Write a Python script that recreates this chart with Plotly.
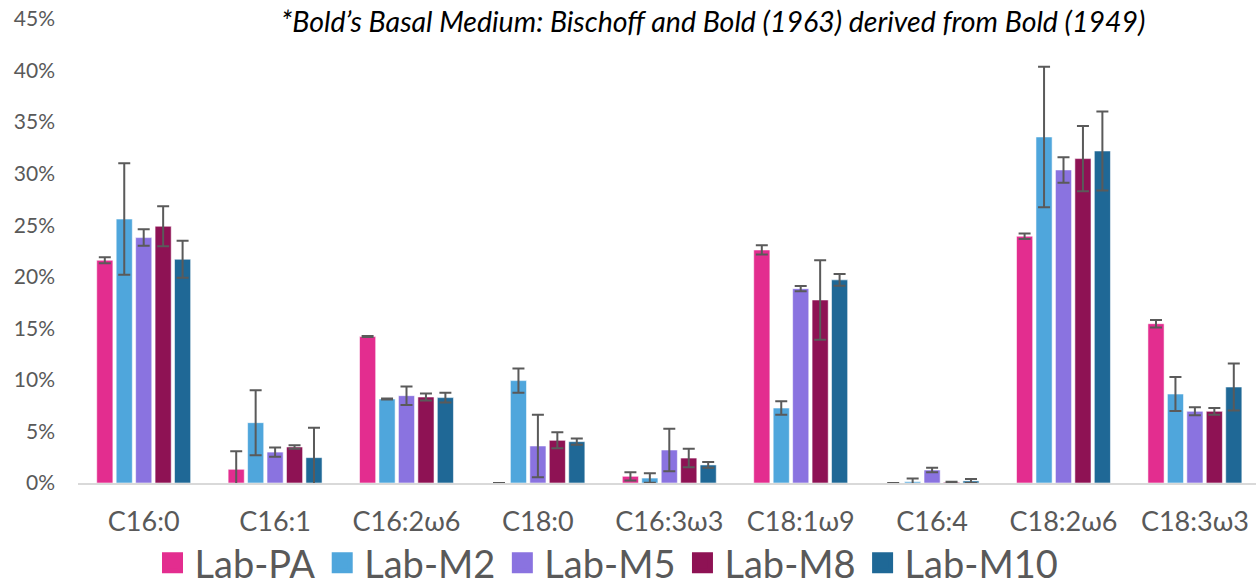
import plotly.graph_objects as go

# Fatty acid profile (% of total fatty acids), mean ± SD per culture
categories = ["C16:0", "C16:1", "C16:2ω6", "C18:0", "C16:3ω3",
              "C18:1ω9", "C16:4", "C18:2ω6", "C18:3ω3"]

lab_pa = [21.6, 1.33, 14.2, 0.0, 0.65, 22.6, 0.0, 23.93, 15.45]
lab_pa_err = [0.3, 1.75, 0.05, 0.0, 0.4, 0.45, 0.0, 0.26, 0.36]

lab_m2 = [25.6, 5.85, 8.15, 9.93, 0.48, 7.27, 0.13, 33.56, 8.63]
lab_m2_err = [5.4, 3.15, 0.05, 1.18, 0.46, 0.66, 0.3, 6.82, 1.65]

lab_m5 = [23.8, 3.0, 8.47, 3.59, 3.2, 18.85, 1.26, 30.36, 6.95]
lab_m5_err = [0.8, 0.45, 0.9, 3.03, 2.05, 0.25, 0.22, 1.23, 0.39]

lab_m8 = [24.9, 3.49, 8.34, 4.14, 2.42, 17.75, 0.07, 31.46, 6.95]
lab_m8_err = [1.95, 0.18, 0.35, 0.78, 0.89, 3.85, 0.05, 3.17, 0.32]

lab_m10 = [21.7, 2.46, 8.28, 4.01, 1.75, 19.7, 0.2, 32.2, 9.31]
lab_m10_err = [1.8, 2.9, 0.48, 0.31, 0.28, 0.56, 0.19, 3.83, 2.27]

series_names = ["Lab-PA", "Lab-M2", "Lab-M5", "Lab-M8", "Lab-M10"]
series_values = [lab_pa, lab_m2, lab_m5, lab_m8, lab_m10]
series_errors = [lab_pa_err, lab_m2_err, lab_m5_err, lab_m8_err, lab_m10_err]
series_colors = ["#E32D8F", "#4FA6DC", "#8A73E0", "#8E1254", "#1F6896"]

TICK_GREY = "#595959"
FONT = "Lato"

fig = go.Figure()

for name, vals, errs, color in zip(series_names, series_values, series_errors, series_colors):
    fig.add_trace(go.Bar(
        name=name,
        x=categories,
        y=vals,
        marker=dict(color=color, line=dict(color="rgba(255,255,255,0.55)", width=1)),
        error_y=dict(type="data", array=errs, visible=True,
                     color="#5A5A5A", thickness=2, width=6),
        showlegend=False,
    ))

# Larger square swatches for the legend
for name, color in zip(series_names, series_colors):
    fig.add_trace(go.Scatter(
        name=name,
        x=[None], y=[None],
        mode="markers",
        marker=dict(symbol="square", size=16, color=color,
                    line=dict(color=color, width=5)),
        showlegend=True,
    ))

fig.add_annotation(
    text="*Bold’s Basal Medium: Bischoff and Bold (1963) derived from Bold (1949)",
    xref="paper", yref="paper",
    x=(713 - 78) / 1178, y=(483 - 21) / 464,
    xanchor="center", yanchor="middle",
    showarrow=False,
    font=dict(family=FONT, size=28.5, color="#000000", style="italic"),
)

fig.update_layout(
    width=1256,
    height=588,
    margin=dict(l=78, r=0, t=19, b=105, autoexpand=False),
    paper_bgcolor="white",
    plot_bgcolor="white",
    barmode="group",
    bargap=0.26,
    bargroupgap=0.17,
    font=dict(family=FONT, color=TICK_GREY),
    legend=dict(
        orientation="h",
        xref="paper", x=(607 - 78) / 1178, xanchor="center",
        yref="container", y=1 - 563 / 588, yanchor="middle",
        font=dict(family=FONT, size=38, color=TICK_GREY),
        itemsizing="trace",
        itemwidth=34,
        tracegroupgap=0,
        bgcolor="rgba(0,0,0,0)",
    ),
    xaxis=dict(
        type="category",
        range=[-0.5, 8.465],
        showline=True,
        linecolor="#D9D9D9",
        linewidth=2,
        showgrid=False,
        ticks="",
        ticklabelstandoff=14,
        tickfont=dict(family=FONT, size=27, color=TICK_GREY),
        automargin=False,
        fixedrange=True,
    ),
    yaxis=dict(
        range=[0, 45],
        dtick=5,
        ticksuffix="%",
        showline=False,
        showgrid=False,
        zeroline=False,
        ticks="",
        ticklabelstandoff=22,
        tickfont=dict(family=FONT, size=21, color=TICK_GREY),
        automargin=False,
        fixedrange=True,
    ),
)

fig.write_html("out.html")
